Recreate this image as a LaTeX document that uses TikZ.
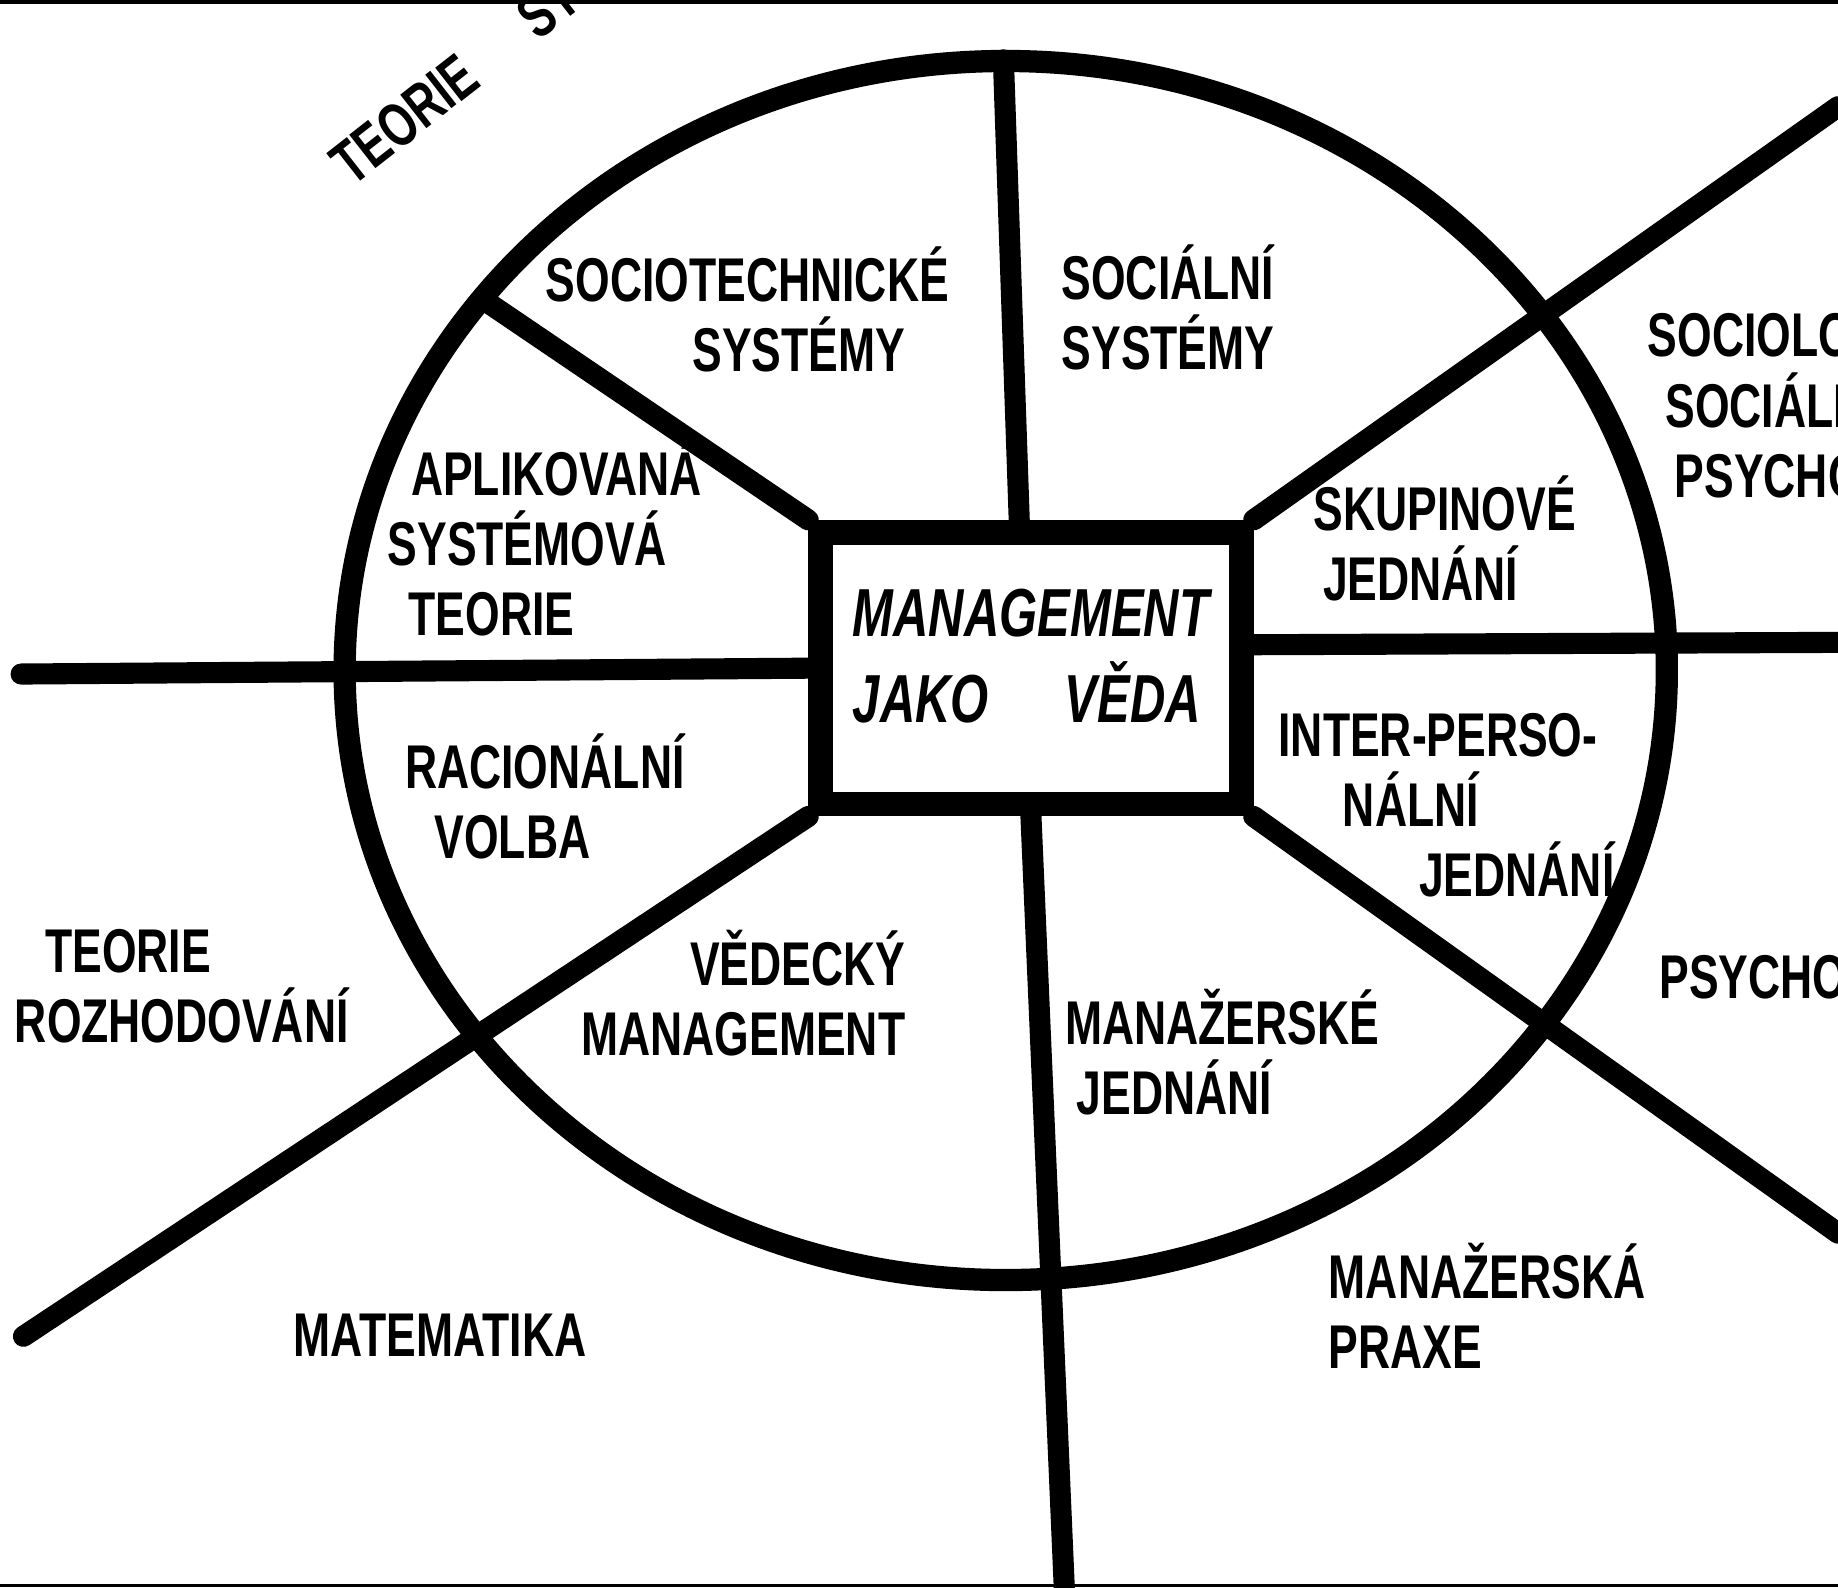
\documentclass[tikz,border=0pt]{standalone}
\usepackage{fontspec}
\setmainfont{Liberation Sans}[FakeStretch=0.72]
\usepackage{tikz}
\newcommand{\capstrut}{\rule{0pt}{14pt}}
\tikzstyle{sector}=[anchor=north west, inner sep=0pt, align=left, font=\fontsize{15pt}{17pt}\selectfont\bfseries, execute at begin node=\capstrut]
\tikzstyle{core}=[draw, line width=2.1mm, inner sep=0pt, minimum width=35.9mm, minimum height=23.2mm, align=left, font=\fontsize{16.5pt}{21pt}\selectfont\bfseries\itshape]
\tikzstyle{spoke}=[line width=1.8mm, line cap=round]
\tikzstyle{ring}=[line width=1.9mm]

\begin{document}
\begin{tikzpicture}[x=0.1mm, y=-0.1mm]
	\useasboundingbox (0,0) rectangle (1568,1354);
	\clip (0,0) rectangle (1568,1354);

		% frame
		\draw[line width=0.3mm] (0,1.5) -- (1568,1.5) (0,1352.5) -- (1568,1352.5);

		\coordinate (ctr) at (858,572);
		\coordinate (sTop) at (856,51);
		\coordinate (sUL) at (413,256);
		\coordinate (sLeft) at (18,575);
		\coordinate (sLL) at (20,1140);
		\coordinate (sBot) at (908,1356);
		\coordinate (sLR) at (1568,1052);
		\coordinate (sRight) at (1568,548);
		\coordinate (sUR) at (1568,91);

		\node[core] (mjv) at (879.5,570) {MANAGEMENT\\JAKO\hspace{6.5mm}VĚDA\\[-15pt]};

		\draw[spoke] ([xshift=-1mm]mjv.north) -- (sTop);
		\draw[spoke] ([yshift=2mm]mjv.east) -- (sRight);
		\foreach \from/\to in {north west/sUL, west/sLeft, south west/sLL, south/sBot, south east/sLR, north east/sUR}
			\draw[spoke] (mjv.\from) -- (\to);

		\draw[ring] (ctr) ellipse [x radius=56.4mm, y radius=52mm];

		% inside the ring
		\node[sector] (soctech) at (465,210) {SOCIOTECHNICKÉ\\\hspace*{12.5mm}SYSTÉMY};
		\node[sector] (socsys) at (905,208) {SOCIÁLNÍ\\SYSTÉMY};
		\node[sector] (aplsys) at (330,375) {\hspace*{2mm}APLIKOVANÁ\\SYSTÉMOVÁ\\\hspace*{1.8mm}TEORIE};
		\node[sector] (skup) at (1120,405) {SKUPINOVÉ\\\hspace*{0.8mm}JEDNÁNÍ};
		\node[sector] (racio) at (345,625) {RACIONÁLNÍ\\\hspace*{2.5mm}VOLBA};
		\node[sector] (inter) at (1090,608) {INTER-PERSO-\\\hspace*{5.5mm}NÁLNÍ\\\hspace*{12mm}JEDNÁNÍ};
		\node[sector, anchor=north east, align=right] (vedman) at (773,793) {VĚDECKÝ\\MANAGEMENT};
		\node[sector] (manjed) at (908,843) {MANAŽERSKÉ\\\hspace*{1mm}JEDNÁNÍ};

		% outside the ring
		\node[sector, anchor=base west, rotate=38] (teosys) at (300,160) {TEORIE\hspace{6mm}SYSTÉMŮ};
		\node[sector] (sociol) at (1405,267) {SOCIOLOGIE\\\hspace*{1.5mm}SOCIÁLNÍ\\\hspace*{2.3mm}PSYCHOLOGIE};
		\node[sector] (psych) at (1415,802) {PSYCHOLOGIE};
		\node[sector] (teroz) at (12,792) {\hspace*{2.6mm}TEORIE\\ROZHODOVÁNÍ};
		\node[sector] (mat) at (250,1107) {MATEMATIKA};
		\node[sector] (praxe) at (1133,1060) {MANAŽERSKÁ\\PRAXE};
\end{tikzpicture}
\end{document}
